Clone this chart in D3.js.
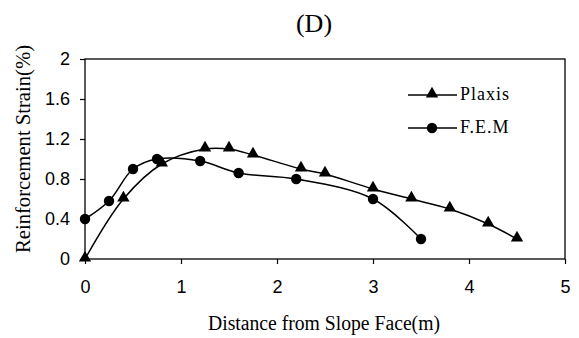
<html>
<head>
<meta charset="utf-8">
<script src="https://cdn.jsdelivr.net/npm/d3@7"></script>
<style>
 body { margin: 0; background: #fff; }
 svg { display: block; }
</style>
</head>
<body>
<svg id="chart" width="579" height="338"></svg>
<script>
 // values
 var plaxisX = [0, 0.4, 0.8, 1.25, 1.5, 1.75, 2.25, 2.5, 3.0, 3.4, 3.8, 4.2, 4.5];
 var plaxisY = [0, 0.6, 0.95, 1.1, 1.1, 1.04, 0.9, 0.85, 0.7, 0.6, 0.5, 0.35, 0.2];
 var femX = [0, 0.25, 0.5, 0.75, 1.2, 1.6, 2.2, 3.0, 3.5];
 var femY = [0.4, 0.58, 0.9, 1.0, 0.98, 0.86, 0.8, 0.6, 0.2];
 var xTicks = [0, 1, 2, 3, 4, 5];
 var yTicks = [0, 0.4, 0.8, 1.2, 1.6, 2];

 var svg = d3.select('#chart');
 var plotL = 85, plotR = 565, plotT = 59, plotB = 259;

 var x = d3.scaleLinear().domain([0, 5]).range([plotL, plotR]);
 var y = d3.scaleLinear().domain([0, 2]).range([plotB, plotT]);

 // title
 svg.append('text').attr('x', 314).attr('y', 32)
    .attr('text-anchor', 'middle')
    .style('font-family', 'Liberation Serif').style('font-size', '26px')
    .text('(D)');

 // plot frame
 svg.append('rect').attr('x', plotL).attr('y', plotT)
    .attr('width', plotR - plotL).attr('height', plotB - plotT)
    .attr('fill', 'none').attr('stroke', '#000').attr('stroke-width', 1.3);

 var xAxis = svg.append('g').attr('transform', 'translate(0,' + plotB + ')')
    .call(d3.axisBottom(x).tickValues(xTicks).tickSize(5).tickPadding(16).tickFormat(d3.format('d')));
 var yAxis = svg.append('g').attr('transform', 'translate(' + plotL + ',0)')
    .call(d3.axisLeft(y).tickValues(yTicks).tickSize(5).tickPadding(10).tickFormat(function(d) { return String(d); }));

 [xAxis, yAxis].forEach(function(g) {
     g.select('.domain').remove();
     g.selectAll('line').attr('stroke', '#000').attr('stroke-width', 1.2);
     g.selectAll('text').style('font-family', 'Liberation Sans').style('font-size', '18px').attr('fill', '#000');
 });

 // axis titles
 svg.append('text').attr('x', 324).attr('y', 330)
    .attr('text-anchor', 'middle')
    .attr('textLength', 232).attr('lengthAdjust', 'spacingAndGlyphs')
    .style('font-family', 'Liberation Serif').style('font-size', '20px')
    .text('Distance from Slope Face(m)');
 svg.append('text')
    .attr('transform', 'translate(30,149) rotate(-90)')
    .attr('text-anchor', 'middle')
    .attr('textLength', 208).attr('lengthAdjust', 'spacingAndGlyphs')
    .style('font-family', 'Liberation Serif').style('font-size', '20px')
    .text('Reinforcement Strain(%)');

 var line = d3.line()
    .x(function(d) { return x(d[0]); })
    .y(function(d) { return y(d[1]); })
    .curve(d3.curveCatmullRom.alpha(0.5));

 var plaxis = plaxisX.map(function(d, i) { return [d, plaxisY[i]]; });
 var fem = femX.map(function(d, i) { return [d, femY[i]]; });

 svg.append('path').datum(plaxis).attr('d', line)
    .attr('fill', 'none').attr('stroke', '#000').attr('stroke-width', 1.5);
 svg.append('path').datum(fem).attr('d', line)
    .attr('fill', 'none').attr('stroke', '#000').attr('stroke-width', 1.5);

 var tri = d3.symbol().type(d3.symbolTriangle).size(66);
 svg.append('g').selectAll('path').data(plaxis).enter().append('path')
    .attr('d', tri)
    .attr('transform', function(d) { return 'translate(' + x(d[0]) + ',' + (y(d[1]) - 1) + ')'; })
    .attr('fill', '#000');
 svg.append('g').selectAll('circle').data(fem).enter().append('circle')
    .attr('cx', function(d) { return x(d[0]); })
    .attr('cy', function(d) { return y(d[1]); })
    .attr('r', 5.2).attr('fill', '#000');

 // legend
 var legend = svg.append('g');
 [['Plaxis', 95, 'tri'], ['F.E.M', 128, 'circ']].forEach(function(item) {
     legend.append('line').attr('x1', 408).attr('x2', 457)
        .attr('y1', item[1]).attr('y2', item[1])
        .attr('stroke', '#000').attr('stroke-width', 1.5);
     if (item[2] == 'tri') {
         legend.append('path').attr('d', tri)
            .attr('transform', 'translate(432,' + (item[1] - 1) + ')').attr('fill', '#000');
     } else {
         legend.append('circle').attr('cx', 432).attr('cy', item[1]).attr('r', 5.2).attr('fill', '#000');
     }
     legend.append('text').attr('x', 460).attr('y', item[1] + 5)
        .style('font-family', 'Liberation Serif').style('font-size', '18px')
        .style('letter-spacing', '1px')
        .text(item[0]);
 });
</script>
</body>
</html>
